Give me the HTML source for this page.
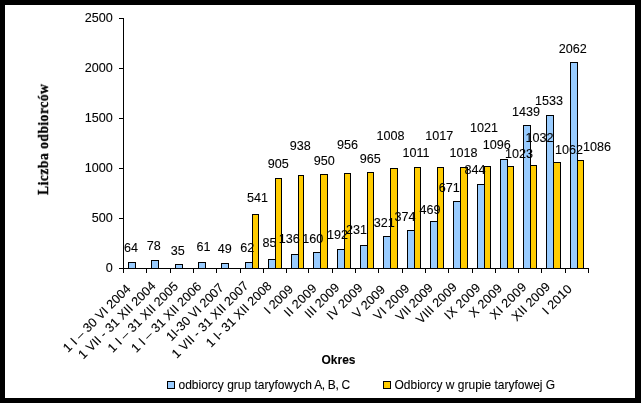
<!DOCTYPE html>
<html><head><meta charset="utf-8"><title>chart</title>
<style>html,body{margin:0;padding:0;background:#000;}body{width:641px;height:403px;overflow:hidden;}svg{display:block;will-change:transform;font-family:"Liberation Sans",sans-serif;font-size:12px;fill:#000;}.b{fill:#99ccff;stroke:#000;stroke-width:1;}.y{fill:#ffcc00;stroke:#000;stroke-width:1;}.l{stroke:#000;stroke-width:1;fill:none;}text{stroke:#000;stroke-width:0.1px;}</style></head><body>
<svg width="641" height="403" viewBox="0 0 641 403">
<rect x="0" y="0" width="641" height="403" fill="#000"/>
<rect x="5" y="5" width="630" height="393" fill="#fff"/>
<g shape-rendering="crispEdges">
<rect class="b" x="128.5" y="262.5" width="7" height="6"/>
<rect class="b" x="151.5" y="260.5" width="7" height="8"/>
<rect class="b" x="175.5" y="264.5" width="7" height="4"/>
<rect class="b" x="198.5" y="262.5" width="7" height="6"/>
<rect class="b" x="221.5" y="263.5" width="7" height="5"/>
<rect class="b" x="245.5" y="262.5" width="7" height="6"/>
<rect class="y" x="252.5" y="214.5" width="6" height="54"/>
<rect class="b" x="268.5" y="259.5" width="7" height="9"/>
<rect class="y" x="275.5" y="178.5" width="6" height="90"/>
<rect class="b" x="291.5" y="254.5" width="7" height="14"/>
<rect class="y" x="298.5" y="175.5" width="5" height="93"/>
<rect class="b" x="313.5" y="252.5" width="7" height="16"/>
<rect class="y" x="320.5" y="174.5" width="7" height="94"/>
<rect class="b" x="337.5" y="249.5" width="7" height="19"/>
<rect class="y" x="344.5" y="173.5" width="6" height="95"/>
<rect class="b" x="360.5" y="245.5" width="7" height="23"/>
<rect class="y" x="367.5" y="172.5" width="6" height="96"/>
<rect class="b" x="383.5" y="236.5" width="7" height="32"/>
<rect class="y" x="390.5" y="168.5" width="7" height="100"/>
<rect class="b" x="407.5" y="230.5" width="7" height="38"/>
<rect class="y" x="414.5" y="167.5" width="6" height="101"/>
<rect class="b" x="430.5" y="221.5" width="7" height="47"/>
<rect class="y" x="437.5" y="167.5" width="6" height="101"/>
<rect class="b" x="453.5" y="201.5" width="7" height="67"/>
<rect class="y" x="460.5" y="167.5" width="7" height="101"/>
<rect class="b" x="477.5" y="184.5" width="7" height="84"/>
<rect class="y" x="484.5" y="166.5" width="6" height="102"/>
<rect class="b" x="500.5" y="159.5" width="7" height="109"/>
<rect class="y" x="507.5" y="166.5" width="6" height="102"/>
<rect class="b" x="523.5" y="125.5" width="7" height="143"/>
<rect class="y" x="530.5" y="165.5" width="6" height="103"/>
<rect class="b" x="546.5" y="115.5" width="7" height="153"/>
<rect class="y" x="553.5" y="162.5" width="7" height="106"/>
<rect class="b" x="570.5" y="62.5" width="7" height="206"/>
<rect class="y" x="577.5" y="160.5" width="6" height="108"/>
<path class="l" d="M123.5 18 V273"/>
<path class="l" d="M119 268.5 H589"/>
<path class="l" d="M119 18.5 H124"/>
<path class="l" d="M119 68.5 H124"/>
<path class="l" d="M119 118.5 H124"/>
<path class="l" d="M119 168.5 H124"/>
<path class="l" d="M119 218.5 H124"/>
<path class="l" d="M119 268.5 H124"/>
<path class="l" d="M123.5 268 V273"/>
<path class="l" d="M146.5 268 V273"/>
<path class="l" d="M170.5 268 V273"/>
<path class="l" d="M193.5 268 V273"/>
<path class="l" d="M216.5 268 V273"/>
<path class="l" d="M240.5 268 V273"/>
<path class="l" d="M263.5 268 V273"/>
<path class="l" d="M286.5 268 V273"/>
<path class="l" d="M308.5 268 V273"/>
<path class="l" d="M332.5 268 V273"/>
<path class="l" d="M355.5 268 V273"/>
<path class="l" d="M378.5 268 V273"/>
<path class="l" d="M402.5 268 V273"/>
<path class="l" d="M425.5 268 V273"/>
<path class="l" d="M448.5 268 V273"/>
<path class="l" d="M472.5 268 V273"/>
<path class="l" d="M495.5 268 V273"/>
<path class="l" d="M518.5 268 V273"/>
<path class="l" d="M541.5 268 V273"/>
<path class="l" d="M565.5 268 V273"/>
<path class="l" d="M588.5 268 V273"/>
</g>
<defs><filter id="g" filterUnits="userSpaceOnUse" x="0" y="0" width="641" height="403"><feOffset dx="0" dy="0"/></filter></defs>
<g filter="url(#g)">
<text x="112.7" y="22.3" text-anchor="end" font-size="12.6px">2500</text>
<text x="112.7" y="72.3" text-anchor="end" font-size="12.6px">2000</text>
<text x="112.7" y="122.3" text-anchor="end" font-size="12.6px">1500</text>
<text x="112.7" y="172.3" text-anchor="end" font-size="12.6px">1000</text>
<text x="112.7" y="222.3" text-anchor="end" font-size="12.6px">500</text>
<text x="112.7" y="272.3" text-anchor="end" font-size="12.6px">0</text>
<text x="123.90" y="252.25" font-size="12.6px">64</text>
<text x="146.70" y="250.30" font-size="12.6px">78</text>
<text x="170.70" y="254.75" font-size="12.6px">35</text>
<text x="196.50" y="251.12" font-size="12.6px">61</text>
<text x="217.82" y="252.88" font-size="12.6px">49</text>
<text x="240.32" y="251.75" font-size="12.6px">62</text>
<text x="247.00" y="201.75" font-size="12.6px">541</text>
<text x="262.45" y="247.38" font-size="12.6px">85</text>
<text x="267.77" y="168.25" font-size="12.6px">905</text>
<text x="278.80" y="243.12" font-size="12.6px">136</text>
<text x="289.70" y="149.75" font-size="12.6px">938</text>
<text x="302.25" y="242.55" font-size="12.6px">160</text>
<text x="313.75" y="164.50" font-size="12.6px">950</text>
<text x="327.05" y="238.57" font-size="12.6px">192</text>
<text x="336.95" y="148.62" font-size="12.6px">956</text>
<text x="346.05" y="234.35" font-size="12.6px">231</text>
<text x="359.70" y="162.50" font-size="12.6px">965</text>
<text x="373.70" y="226.70" font-size="12.6px">321</text>
<text x="376.50" y="140.40" font-size="12.6px">1008</text>
<text x="394.45" y="220.57" font-size="12.6px">374</text>
<text x="402.45" y="157.30" font-size="12.6px">1011</text>
<text x="419.40" y="213.57" font-size="12.6px">469</text>
<text x="425.30" y="140.40" font-size="12.6px">1017</text>
<text x="438.75" y="192.38" font-size="12.6px">671</text>
<text x="449.40" y="157.35" font-size="12.6px">1018</text>
<text x="464.45" y="174.38" font-size="12.6px">844</text>
<text x="469.95" y="131.55" font-size="12.6px">1021</text>
<text x="482.75" y="149.30" font-size="12.6px">1096</text>
<text x="504.90" y="158.38" font-size="12.6px">1023</text>
<text x="511.95" y="115.58" font-size="12.6px">1439</text>
<text x="525.45" y="142.30" font-size="12.6px">1032</text>
<text x="534.90" y="105.30" font-size="12.6px">1533</text>
<text x="555.10" y="153.70" font-size="12.6px">1062</text>
<text x="558.83" y="52.60" font-size="12.6px">2062</text>
<text x="583.05" y="150.57" font-size="12.6px">1086</text>
<text transform="translate(125.50 283.62) rotate(-45)" text-anchor="end" font-size="12.6px" letter-spacing="0.053" x="0" y="8.3">1 I – 30 VI 2004</text>
<text transform="translate(150.72 280.70) rotate(-45)" text-anchor="end" font-size="12.6px" letter-spacing="0.108" x="0" y="8.3">1 VII - 31 XII 2004</text>
<text transform="translate(173.12 281.00) rotate(-45)" text-anchor="end" font-size="12.6px" letter-spacing="0.075" x="0" y="8.3">1 I – 31 XII 2005</text>
<text transform="translate(196.31 281.44) rotate(-45)" text-anchor="end" font-size="12.6px" letter-spacing="0.044" x="0" y="8.3">1 I – 31 XII 2006</text>
<text transform="translate(218.59 282.61) rotate(-45)" text-anchor="end" font-size="12.6px" letter-spacing="-0.015" x="0" y="8.3">1I-30 VI 2007</text>
<text transform="translate(243.44 280.56) rotate(-45)" text-anchor="end" font-size="12.6px" letter-spacing="0.066" x="0" y="8.3">1 VII - 31 XII 2007</text>
<text transform="translate(266.49 280.76) rotate(-45)" text-anchor="end" font-size="12.6px" letter-spacing="0.042" x="0" y="8.3">1 I- 31 XII 2008</text>
<text transform="translate(288.02 284.15) rotate(-45)" text-anchor="end" font-size="12.6px" letter-spacing="0.004" x="0" y="8.3">I 2009</text>
<text transform="translate(311.83 282.96) rotate(-45)" text-anchor="end" font-size="12.6px" letter-spacing="0.292" x="0" y="8.3">II 2009</text>
<text transform="translate(334.42 282.29) rotate(-45)" text-anchor="end" font-size="12.6px" letter-spacing="0.150" x="0" y="8.3">III 2009</text>
<text transform="translate(357.88 282.50) rotate(-45)" text-anchor="end" font-size="12.6px" letter-spacing="0.277" x="0" y="8.3">IV 2009</text>
<text transform="translate(380.24 284.46) rotate(-45)" text-anchor="end" font-size="12.6px" letter-spacing="0.093" x="0" y="8.3">V 2009</text>
<text transform="translate(404.52 283.15) rotate(-45)" text-anchor="end" font-size="12.6px" letter-spacing="0.237" x="0" y="8.3">VI 2009</text>
<text transform="translate(427.92 282.79) rotate(-45)" text-anchor="end" font-size="12.6px" letter-spacing="-0.027" x="0" y="8.3">VII 2009</text>
<text transform="translate(451.92 281.89) rotate(-45)" text-anchor="end" font-size="12.6px" letter-spacing="0.165" x="0" y="8.3">VIII 2009</text>
<text transform="translate(475.48 282.45) rotate(-45)" text-anchor="end" font-size="12.6px" letter-spacing="0.267" x="0" y="8.3">IX 2009</text>
<text transform="translate(497.21 283.09) rotate(-45)" text-anchor="end" font-size="12.6px" letter-spacing="0.211" x="0" y="8.3">X 2009</text>
<text transform="translate(521.53 281.76) rotate(-45)" text-anchor="end" font-size="12.6px" letter-spacing="0.343" x="0" y="8.3">XI 2009</text>
<text transform="translate(545.22 281.44) rotate(-45)" text-anchor="end" font-size="12.6px" letter-spacing="0.212" x="0" y="8.3">XII 2009</text>
<text transform="translate(566.91 283.79) rotate(-45)" text-anchor="end" font-size="12.6px" letter-spacing="0.211" x="0" y="8.3">I 2010</text>
<text transform="translate(338.5 364.2) scale(0.9524 1)" text-anchor="middle" font-weight="bold" font-size="12.6px">Okres</text>
<text transform="translate(48 139.3) rotate(-90) scale(0.93 1)" text-anchor="middle" font-family="'Liberation Serif',serif" font-weight="bold" font-size="14.5px" letter-spacing="0.57" style="stroke-width:0.3px">Liczba odbiorców</text>
</g>
<g shape-rendering="crispEdges"><rect class="b" x="167.5" y="381.5" width="7" height="7"/><rect class="y" x="383.5" y="381.5" width="7" height="7"/></g>
<g filter="url(#g)"><text transform="translate(178.5 389.2) scale(0.9524 1)" font-size="12.6px">odbiorcy grup taryfowych<tspan letter-spacing="-0.36"> A, B, C</tspan></text>
<text transform="translate(394.5 389.2) scale(0.9524 1)" font-size="12.6px">Odbiorcy w grupie taryfowej G</text></g>
</svg></body></html>
